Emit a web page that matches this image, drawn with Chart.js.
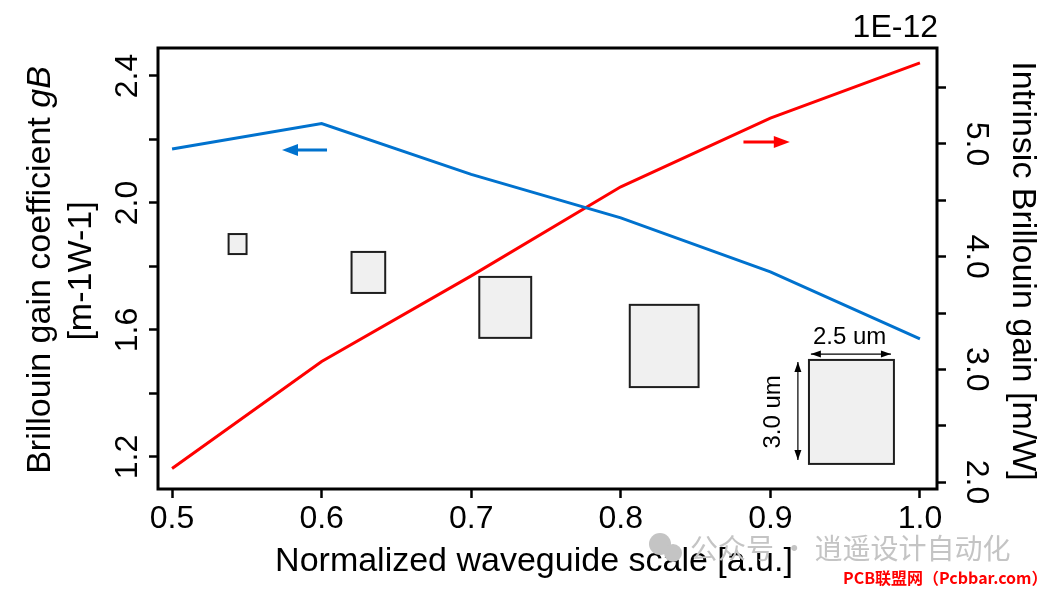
<!DOCTYPE html>
<html>
<head>
<meta charset="utf-8">
<script src="https://cdn.jsdelivr.net/npm/chart.js@4"></script>
<style>
body{margin:0;background:#fff;}
#wrap{width:1045px;height:592px;position:relative;}
</style>
</head>
<body>
<div id="wrap"><canvas id="grafico"></canvas></div>
<script>
// data
const escala=[0.5,0.6,0.7,0.8,0.9,1.0];
const ganhoCoef=[2.17,2.25,2.09,1.953,1.783,1.572];     // left axis, gB
const ganhoIntr=[2.12,3.07,3.83,4.62,5.23,5.72];       // right axis, x1E-12
const xTicks=[0.5,0.6,0.7,0.8,0.9,1.0];
const esqTicks=[1.2,1.4,1.6,1.8,2.0,2.2,2.4];
const esqLabels=[1.2,1.6,2.0,2.4];
const dirTicks=[2.0,2.5,3.0,3.5,4.0,4.5,5.0,5.5];
const dirLabels=[2.0,3.0,4.0,5.0];

// waveguide cross sections (x range, left axis range)
const secoes=[
[0.5378,0.5498,1.839,1.902],
[0.620,0.6425,1.7165,1.8457],
[0.7054,0.7401,1.575,1.767],
[0.806,0.852,1.420,1.679],
[0.9258,0.9826,1.178,1.5055]
];

const azul="#0072CE";
const vermelho="#FF0000";
const fonte="'Liberation Sans', Arial, sans-serif";

function seta(ctx,x1,y,x2,cor){
ctx.save();
ctx.strokeStyle=cor;ctx.fillStyle=cor;ctx.lineWidth=3;
const dir=x2>x1?1:-1;
ctx.beginPath();ctx.moveTo(x1,y);ctx.lineTo(x2-dir*12,y);ctx.stroke();
ctx.beginPath();ctx.moveTo(x2,y);ctx.lineTo(x2-dir*16,y-6);ctx.lineTo(x2-dir*16,y+6);ctx.closePath();ctx.fill();
ctx.restore();
}

function setaDupla(ctx,x1,y1,x2,y2){
ctx.save();
ctx.strokeStyle="#000";ctx.fillStyle="#000";ctx.lineWidth=1.2;
ctx.beginPath();ctx.moveTo(x1,y1);ctx.lineTo(x2,y2);ctx.stroke();
const ang=Math.atan2(y2-y1,x2-x1);
[[x2,y2,ang],[x1,y1,ang+Math.PI]].forEach(([x,y,a])=>{
ctx.beginPath();
ctx.moveTo(x,y);
ctx.lineTo(x-10*Math.cos(a)+3.5*Math.sin(a),y-10*Math.sin(a)-3.5*Math.cos(a));
ctx.lineTo(x-10*Math.cos(a)-3.5*Math.sin(a),y-10*Math.sin(a)+3.5*Math.cos(a));
ctx.closePath();ctx.fill();
});
ctx.restore();
}

function textoRot(ctx,txt,x,y,ang){
ctx.save();ctx.translate(x,y);ctx.rotate(ang);ctx.fillText(txt,0,0);ctx.restore();
}

const extras={
id:"extras",
afterDatasetsDraw(chart){
const ctx=chart.ctx;
const sx=chart.scales.x,sl=chart.scales.yL,sr=chart.scales.yR;
const a=chart.chartArea;

// cross sections
ctx.save();
ctx.fillStyle="#f0f0f0";ctx.strokeStyle="#1e1e1e";ctx.lineWidth=2;
secoes.forEach(r=>{
const x0=sx.getPixelForValue(r[0]),x1=sx.getPixelForValue(r[1]);
const y0=sl.getPixelForValue(r[3]),y1=sl.getPixelForValue(r[2]);
ctx.fillRect(x0,y0,x1-x0,y1-y0);
ctx.strokeRect(x0,y0,x1-x0,y1-y0);
});
ctx.restore();

// dimension marks on the last section
setaDupla(ctx,sx.getPixelForValue(0.9271),sl.getPixelForValue(1.524),sx.getPixelForValue(0.9806),sl.getPixelForValue(1.524));
setaDupla(ctx,sx.getPixelForValue(0.9184),sl.getPixelForValue(1.499),sx.getPixelForValue(0.9184),sl.getPixelForValue(1.19));
ctx.save();
ctx.fillStyle="#000";ctx.font="24px "+fonte;ctx.textAlign="center";ctx.textBaseline="middle";
ctx.fillText("2.5 um",sx.getPixelForValue(0.953),sl.getPixelForValue(1.578));
textoRot(ctx,"3.0 um",sx.getPixelForValue(0.9017),sl.getPixelForValue(1.342),-Math.PI/2);
ctx.restore();

// axis arrows
seta(ctx,sx.getPixelForValue(0.6036),sl.getPixelForValue(2.167),sx.getPixelForValue(0.5735),azul);
seta(ctx,sx.getPixelForValue(0.882),sr.getPixelForValue(5.017),sx.getPixelForValue(0.913),vermelho);

// frame
ctx.save();
ctx.strokeStyle="#000";ctx.lineWidth=3;
ctx.strokeRect(a.left,a.top,a.right-a.left,a.bottom-a.top);
ctx.restore();
},
afterDraw(chart){
const ctx=chart.ctx;
const sl=chart.scales.yL,sr=chart.scales.yR;
const a=chart.chartArea;
ctx.save();
ctx.fillStyle="#000";
ctx.font="32px "+fonte;
ctx.textAlign="center";ctx.textBaseline="middle";

// rotated tick labels
esqLabels.forEach(v=>textoRot(ctx,v.toFixed(1),128,sl.getPixelForValue(v),-Math.PI/2));
dirLabels.forEach(v=>textoRot(ctx,v.toFixed(1),976,sr.getPixelForValue(v),Math.PI/2));

// axis titles
ctx.font="34px "+fonte;
ctx.fillText("Normalized waveguide scale [a.u.]",534,562);
textoRot(ctx,"Intrinsic Brillouin gain [m/W]",1022,271,Math.PI/2);
textoRot(ctx,"[m-1W-1]",82,271,-Math.PI/2);

// left title with italic gB
const t1="Brillouin gain coefficient ";
const t2="gB";
ctx.font="34px "+fonte;
const w1=ctx.measureText(t1).width;
ctx.font="italic 34px "+fonte;
const w2=ctx.measureText(t2).width;
ctx.save();
ctx.translate(41,270);ctx.rotate(-Math.PI/2);
ctx.textAlign="left";
ctx.font="34px "+fonte;
ctx.fillText(t1,-(w1+w2)/2,0);
ctx.font="italic 34px "+fonte;
ctx.fillText(t2,-(w1+w2)/2+w1,0);
ctx.restore();

// exponent
ctx.textAlign="right";
ctx.font="32px "+fonte;
ctx.fillText("1E-12",a.right+1,28);

// watermark
ctx.fillStyle="#c4c4c4";
ctx.beginPath();ctx.arc(660,544,11,0,Math.PI*2);ctx.fill();
ctx.beginPath();ctx.arc(673,553,9,0,Math.PI*2);ctx.fill();
ctx.textAlign="left";
ctx.font="28px 'Noto Sans CJK SC', sans-serif";
ctx.fillText("公众号 · 逍遥设计自动化",690,548);
ctx.fillStyle="#ff0000";
ctx.font="bold 16px 'Noto Sans CJK SC', monospace";
ctx.fillText("PCB联盟网（Pcbbar.com）",843,578);
ctx.restore();
}
};

const semGrade={drawOnChartArea:false,drawTicks:true,tickLength:9,tickWidth:2.5,tickColor:"#000"};

new Chart(document.getElementById("grafico"),{
type:"line",
data:{
datasets:[
{
label:"gB",
data:escala.map((x,i)=>({x:x,y:ganhoCoef[i]})),
borderColor:azul,borderWidth:3,pointRadius:0,yAxisID:"yL",tension:0
},
{
label:"intrinsic",
data:escala.map((x,i)=>({x:x,y:ganhoIntr[i]})),
borderColor:vermelho,borderWidth:3,pointRadius:0,yAxisID:"yR",tension:0
}
]
},
options:{
responsive:true,
maintainAspectRatio:false,
animation:false,
layout:{padding:{top:48,left:0,right:0,bottom:0}},
plugins:{legend:{display:false},tooltip:{enabled:false}},
scales:{
x:{
type:"linear",
min:0.4906,max:1.0114,
afterBuildTicks:s=>{s.ticks=xTicks.map(v=>({value:v}));},
afterFit:s=>{s.height=103;},
ticks:{color:"#000",font:{size:32,family:fonte},padding:2,maxRotation:0,callback:v=>Number(v).toFixed(1)},
grid:semGrade,
border:{display:false}
},
yL:{
type:"linear",position:"left",
min:1.099,max:2.488,
afterBuildTicks:s=>{s.ticks=esqTicks.map(v=>({value:v}));},
afterFit:s=>{s.width=158;},
ticks:{display:false},
grid:semGrade,
border:{display:false}
},
yR:{
type:"linear",position:"right",
min:1.938,max:5.852,
afterBuildTicks:s=>{s.ticks=dirTicks.map(v=>({value:v}));},
afterFit:s=>{s.width=108;},
ticks:{display:false},
grid:semGrade,
border:{display:false}
}
}
},
plugins:[extras]
});
</script>
</body>
</html>
